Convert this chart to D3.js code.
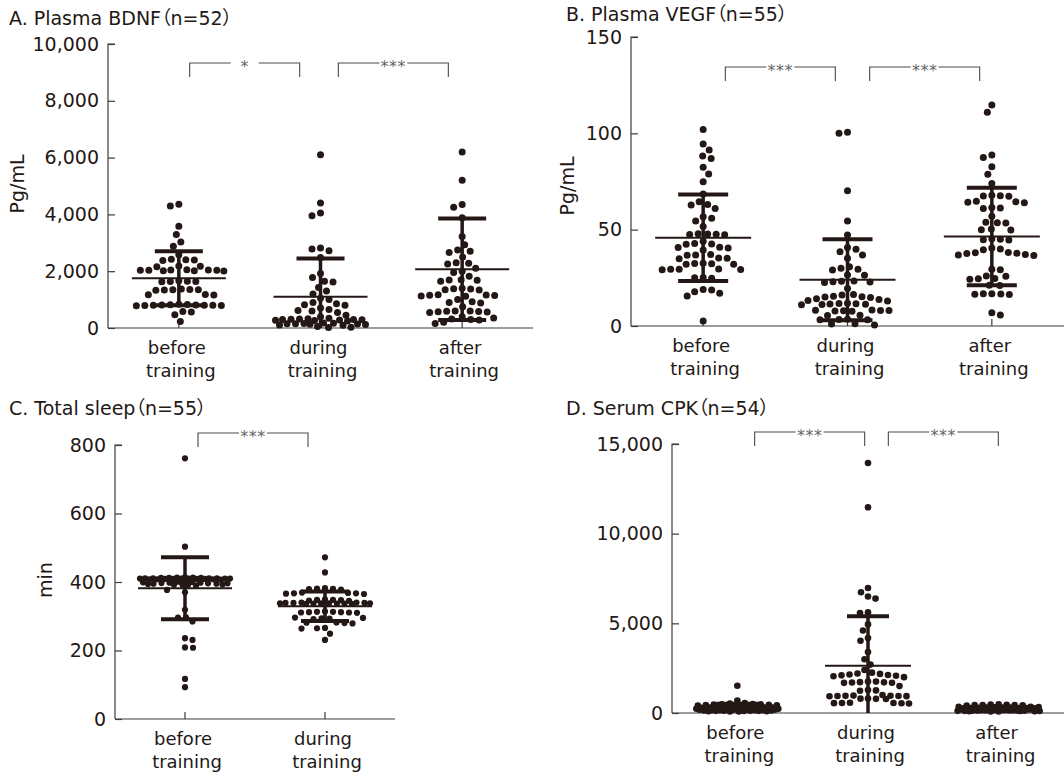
<!DOCTYPE html>
<html>
<head>
<meta charset="utf-8">
<script src="https://cdn.jsdelivr.net/npm/d3@7"></script>
<style>
body { margin: 0; background: #fff; }
text { font-family: "DejaVu Sans", "Noto Sans CJK JP", sans-serif; fill: #231815; }
.title { font-size: 19px; font-feature-settings: "palt" 1; }
</style>
</head>
<body>
<script>
// categories
const cats3 = ["before training", "during training", "after training"];
const cats2 = ["before training", "during training"];

// A. plasma BDNF (pg/mL)
const bdnfBefore = [4300, 4360, 3580, 3290, 3030, 2880, 2400, 2380, 2420, 2390, 2170, 2180, 2160,
  2030, 2020, 2040, 2030, 2010, 2050, 2030, 2020, 2040, 1640, 1650, 1630, 1660, 1640,
  1350, 1360, 1340, 1370, 1350, 1330, 1170, 1180, 1160,
  800, 810, 790, 820, 780, 800, 830, 790, 810, 800, 840, 580, 470, 560, 230, 2580];
const bdnfDuring = [6100, 4400, 4050, 3950, 2820, 2780, 2720, 2480, 1920, 1780, 1650, 1620, 1430, 1300,
  1200, 1050, 1000, 850, 820, 800, 650, 620, 600, 550, 450, 400,
  340, 330, 320, 310, 300, 300, 290, 280, 270, 260, 250,
  180, 170, 160, 150, 150, 140, 130, 120, 110, 100, 50, 30, 20, 900, 700];
const bdnfAfter = [6200, 5200, 4350, 4250, 3880, 3220, 2930, 2750, 2700, 2660, 2500, 2300, 2280, 2250,
  2000, 1950, 1820, 1700, 1690, 1680, 1650, 1400, 1380, 1370, 1350, 1340, 1150, 1160, 1140, 1130,
  1170, 1120, 920, 900, 880, 750, 600, 580, 570, 560, 590, 600, 550, 400, 350, 320, 300, 280,
  160, 200, 1000, 2100];
const bdnfMean = [1750, 1100, 2070];
const bdnfSD = [950, 1350, 1790];
const bdnfTicks = [0, 2000, 4000, 6000, 8000, 10000];

// B. plasma VEGF (pg/mL)
const vegfBefore = [102, 94.5, 91.3, 88.2, 87, 82.4, 78.9, 74.9, 68.5, 64.5, 62.8, 63.1, 61, 56.7, 55.9,
  54.5, 51.6, 47.6, 47.8, 47.4, 47.9, 47.5, 42.6, 42.8, 42.4, 40.7, 39.4, 40.5, 40.9, 36.9, 37.1,
  36.7, 35.1, 35.3, 34.9, 32.5, 32.0, 32.3, 32.6, 32.1, 29.4, 29.5, 29.3, 29.6, 29.2, 25, 25.2,
  24.8, 19, 17, 15.6, 17.8, 18.7, 2.6, 44];
const vegfDuring = [100, 100.5, 70.2, 54.5, 47.2, 39.8, 38.6, 40.7, 36.9, 35.1, 30, 29.4, 30.8, 29.1,
  26.5, 26.3, 23, 23.2, 22.8, 23.4, 22.6, 15.2, 15.5, 16.1, 14.8, 15.0, 16.3, 14.2, 13.0, 13.8,
  13.2, 11.5, 11.2, 11.8, 11.0, 11.4, 11.7, 11.3, 8.0, 7.8, 8.3, 8.1, 7.6, 8.2, 7.9, 5.6, 5.4,
  3.4, 3.2, 3.5, 3.3, 1.0, 0.5, 1.2, 19.5];
const vegfAfter = [114.7, 110.9, 88.8, 87.5, 82.7, 78.7, 74, 67.5, 67.8, 67.3, 67.6, 64.5, 64.2, 64.8,
  64.0, 61.3, 61.5, 61.0, 57, 53.6, 53.8, 53.4, 50, 50.3, 49.8, 45, 44.6, 45.3, 44.8, 40, 40.5,
  38, 38.2, 39.6, 37.8, 37.6, 36.9, 37.1, 36.6, 29.4, 29.2, 24.5, 26, 25.8, 24.2, 24.6, 21, 21.2,
  16.6, 16.4, 16.8, 16.5, 16.7, 6.9, 5.7];
const vegfMean = [45.8, 24, 46.5];
const vegfSD = [22.4, 21, 25.3];
const vegfTicks = [0, 50, 100, 150];

// C. total sleep (min)
const sleepBefore = [761, 503, 377, 370, 319, 297, 296, 285, 236, 231, 209, 208, 117, 93,
  410, 411, 409, 412, 408, 410, 413, 407, 411, 409, 410, 412, 408, 414, 406, 410, 411, 409, 412,
  408, 410, 413, 407, 411, 409,
  395, 398, 392, 400, 394, 397, 391, 399, 396, 393, 401, 390, 395, 398, 392, 396];
const sleepDuring = [472, 428, 380, 382, 378, 381, 379, 367, 366, 368, 365, 369, 367,
  348, 346, 349, 345, 347, 348,
  338, 337, 339, 336, 340, 338, 337, 339, 338, 336, 340, 337, 339, 338,
  312, 313, 311, 314, 312, 310, 313, 311, 294, 296, 292, 295, 293, 280, 281, 279, 282,
  265, 264, 266, 249, 231];
const sleepMean = [382, 329];
const sleepSD = [90.5, 43];
const sleepTicks = [0, 200, 400, 600, 800];

// D. serum CPK
const cpkBefore = [1520, 690, 560, 520, 500, 490, 480, 470, 460, 450, 430, 410,
  350, 340, 330, 320, 310, 300, 300, 290, 280, 270, 260, 250, 250, 240, 330, 310, 290, 270, 260, 240,
  200, 190, 180, 170, 160, 150, 150, 140, 130, 120, 110, 100, 90, 80, 200, 180, 160, 140, 120, 100,
  170, 130];
const cpkDuring = [13940, 11470, 6970, 6730, 6500, 6380, 5610, 5580, 4940, 4600, 4180, 4030, 3400, 3000,
  2700, 2400, 2180, 2120, 2080, 2200, 2050, 2150, 2250, 2000, 2100,
  1750, 1700, 1680, 1720, 1690, 1710, 1760, 1500, 1260, 1280, 1240,
  950, 960, 940, 970, 945, 955, 935, 800, 790, 810, 780, 560, 550, 540, 570, 530, 555, 1000];
const cpkAfter = [480, 470, 460, 450, 450, 440, 430, 420,
  350, 340, 330, 320, 310, 300, 290, 280, 270, 260, 250, 240, 230, 220, 210, 200, 300, 280, 260, 240,
  220, 200, 190, 180, 170, 160, 150, 140, 130, 120, 110, 100, 90, 80, 180, 160, 140, 120, 100, 150,
  170, 130, 110, 200, 250, 190];
const cpkMean = [250, 2640, 200];
const cpkSD = [270, 2750, 100];
const cpkTicks = [0, 5000, 10000, 15000];

const ink = "#231815";

const panels = [
  { title: "A. Plasma BDNF（n=52）", tx: 9, ty: 25, ylab: "Pg/mL", ylx: 24, yly: 184,
    x0: 108, x1: 533, yT: 44, yB: 328, max: 10000, ticks: bdnfTicks, fmt: d3.format(","),
    cats: cats3, groups: [bdnfBefore, bdnfDuring, bdnfAfter], mean: bdnfMean, sd: bdnfSD,
    brackets: [[0, 1, "*", -5], [1, 2, "***", 2]], bry: 63, r: 3.5, dist: 8.5, cap: 24, mw: 47 },
  { title: "B. Plasma VEGF（n=55）", tx: 566, ty: 21, ylab: "Pg/mL", ylx: 574, yly: 186,
    x0: 631, x1: 1064, yT: 37, yB: 326, max: 150, ticks: vegfTicks, fmt: d3.format("d"),
    cats: cats3, groups: [vegfBefore, vegfDuring, vegfAfter], mean: vegfMean, sd: vegfSD,
    brackets: [[0, 1, "***", 5], [1, 2, "***", 5]], bry: 67, r: 3.5, dist: 8.5, cap: 25, mw: 48 },
  { title: "C. Total sleep（n=55）", tx: 9, ty: 415, ylab: "min", ylx: 52, yly: 580,
    x0: 115, x1: 395, yT: 445, yB: 719, max: 800, ticks: sleepTicks, fmt: d3.format("d"),
    cats: cats2, groups: [sleepBefore, sleepDuring], mean: sleepMean, sd: sleepSD,
    brackets: [[0, 1, "***", -2]], bry: 433, r: 3.1, dist: 7.6, cap: 24, mw: 47 },
  { title: "D. Serum CPK（n=54）", tx: 566, ty: 415, ylab: null,
    x0: 672, x1: 1064, yT: 444, yB: 713, max: 15000, ticks: cpkTicks, fmt: d3.format(","),
    cats: cats3, groups: [cpkBefore, cpkDuring, cpkAfter], mean: cpkMean, sd: cpkSD,
    brackets: [[0, 1, "***", 7], [1, 2, "***", 10]], bry: 432, r: 3.3, dist: 7.8, cap: 21, mw: 43 }
];

const svg = d3.select("body").append("svg")
  .attr("width", 1064)
  .attr("height", 776);

// greedy beeswarm: each dot goes to the free spot nearest the centre
function swarm(values, y, dist, maxHalf) {
  const pts = values.map(v => ({ v, y: y(v) })).sort((a, b) => a.y - b.y);
  const placed = [];
  let flip = 1;
  pts.forEach(p => {
    let best = 0, bestScore = -1;
    for (let s = 0; s <= maxHalf && bestScore !== Infinity; s += 0.5) {
      for (const sg of [flip, -flip]) {
        const x = s * sg;
        let md = Infinity;
        for (const q of placed) {
          const d = Math.hypot(q.x - x, q.y - p.y);
          if (d < md) md = d;
        }
        if (md >= dist) { best = x; bestScore = Infinity; break; }
        if (md > bestScore) { bestScore = md; best = x; }
        if (s === 0) break;
      }
    }
    p.x = best;
    placed.push(p);
    flip = -flip;
  });
  return placed;
}

panels.forEach(p => {
  const g = svg.append("g");

  const x = d3.scalePoint().domain(p.cats).range([p.x0, p.x1]).padding(0.5);
  const y = d3.scaleLinear().domain([0, p.max]).range([p.yB, p.yT]);

  // title (palt keeps the full-width brackets tight)
  g.append("text")
    .attr("class", "title")
    .attr("x", p.tx).attr("y", p.ty)
    .text(p.title);

  // y axis label
  if (p.ylab) {
    g.append("text")
      .attr("transform", `translate(${p.ylx},${p.yly}) rotate(-90)`)
      .attr("text-anchor", "middle")
      .style("font-size", "19px")
      .text(p.ylab);
  }

  // y axis, ticks pointing inward
  const yAxis = g.append("g")
    .attr("transform", `translate(${p.x0},0)`)
    .call(d3.axisRight(y).tickValues(p.ticks).tickFormat(p.fmt).tickSize(7).tickPadding(-26));
  yAxis.select(".domain").attr("d", `M7,${p.yT}H0V${p.yB}`);
  yAxis.selectAll("line, path").attr("stroke", "#3c3c3c").attr("stroke-width", 1.2);
  yAxis.selectAll("text")
    .attr("text-anchor", "end")
    .attr("x", -9)
    .style("font-size", "19px")
    .style("font-family", '"DejaVu Sans", sans-serif')
    .attr("fill", ink);

  // x axis
  g.append("line")
    .attr("x1", p.x0).attr("x2", p.x1)
    .attr("y1", p.yB).attr("y2", p.yB)
    .attr("stroke", "#3c3c3c").attr("stroke-width", 1.2);
  g.selectAll(".xtick").data(p.cats).join("line")
    .attr("x1", d => x(d)).attr("x2", d => x(d))
    .attr("y1", p.yB).attr("y2", p.yB - 7)
    .attr("stroke", "#3c3c3c").attr("stroke-width", 1.2);
  const lab = g.selectAll(".xlab").data(p.cats).join("text")
    .attr("text-anchor", "middle")
    .style("font-size", "18px");
  lab.append("tspan").attr("x", d => x(d) - 2).attr("y", p.yB + 26).text(d => d.split(" ")[0]);
  lab.append("tspan").attr("x", d => x(d) + 2).attr("y", p.yB + 49).text(d => d.split(" ")[1]);

  // dots
  p.groups.forEach((vals, i) => {
    const cx = x(p.cats[i]);
    g.append("g").selectAll("circle")
      .data(swarm(vals, y, p.dist, p.mw - 2))
      .join("circle")
      .attr("cx", d => cx + d.x)
      .attr("cy", d => d.y)
      .attr("r", p.r)
      .attr("fill", ink);
  });

  // mean and SD
  p.cats.forEach((c, i) => {
    const cx = x(c);
    const m = p.mean[i], s = p.sd[i];
    const lo = Math.max(0, m - s);
    g.append("line")
      .attr("x1", cx).attr("x2", cx)
      .attr("y1", y(lo)).attr("y2", y(m + s))
      .attr("stroke", ink).attr("stroke-width", 3.5);
    g.append("line")
      .attr("x1", cx - p.cap).attr("x2", cx + p.cap)
      .attr("y1", y(m + s)).attr("y2", y(m + s))
      .attr("stroke", ink).attr("stroke-width", 4);
    if (m - s > 0) {
      g.append("line")
        .attr("x1", cx - p.cap).attr("x2", cx + p.cap)
        .attr("y1", y(m - s)).attr("y2", y(m - s))
        .attr("stroke", ink).attr("stroke-width", 4);
    }
    g.append("line")
      .attr("x1", cx - p.mw).attr("x2", cx + p.mw)
      .attr("y1", y(m)).attr("y2", y(m))
      .attr("stroke", ink).attr("stroke-width", 2);
  });

  // significance brackets
  p.brackets.forEach(([a, b, label, dx]) => {
    const mid = (x(p.cats[a]) + x(p.cats[b])) / 2 + dx;
    g.append("path")
      .attr("d", `M${mid - 55},${p.bry + 14}V${p.bry}H${mid + 55}V${p.bry + 14}`)
      .attr("fill", "none")
      .attr("stroke", "#4a4a4a").attr("stroke-width", 1.1);
    g.append("rect")
      .attr("x", mid - 14).attr("y", p.bry - 4)
      .attr("width", 28).attr("height", 8)
      .attr("fill", "#fff");
    g.append("text")
      .attr("x", mid).attr("y", p.bry + 9)
      .attr("text-anchor", "middle")
      .style("font-size", "16px")
      .style("letter-spacing", "0.5px")
      .style("fill", "#666")
      .text(label);
  });
});
</script>
</body>
</html>
